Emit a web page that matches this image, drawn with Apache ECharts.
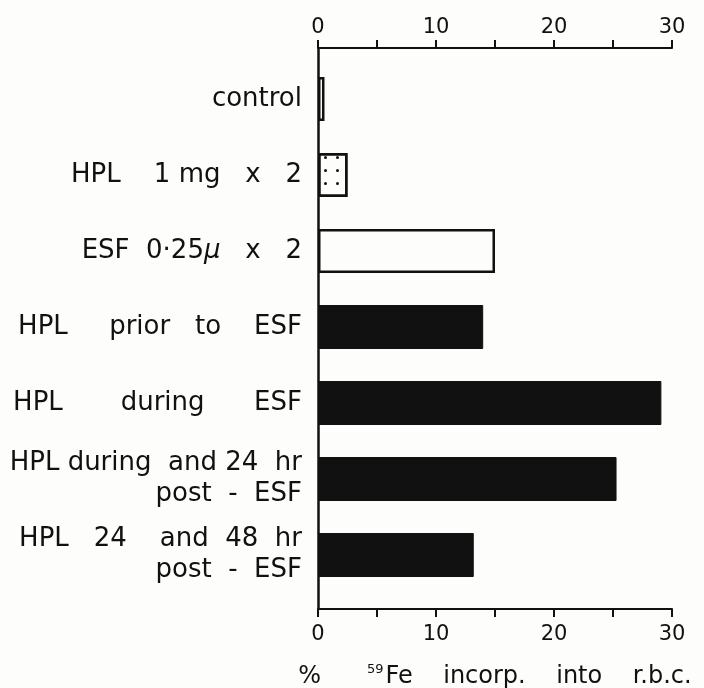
<!DOCTYPE html>
<html>
<head>
<meta charset="utf-8">
<script src="https://cdn.jsdelivr.net/npm/echarts@6/dist/echarts.min.js"></script>
<style>
html,body{margin:0;padding:0;background:#fdfdfb;}
#chart{width:704px;height:688px;}
</style>
</head>
<body>
<div id="chart"></div>
<script>
const categories = [
  'control',
  'HPL    1 mg   x   2',
  'ESF  0·25μ   x   2',
  'HPL     prior   to    ESF',
  'HPL       during      ESF',
  'HPL during  and 24  hr\npost  -  ESF',
  'HPL   24    and  48  hr\npost  -  ESF'
];
const values = [0.55, 2.5, 15.0, 14.0, 29.1, 25.3, 13.2];
const tickLabels = [0, 10, 20, 30];
const axisTitle = ['%', '59', 'Fe    incorp.    into    r.b.c.'];

const FONT = 'DejaVu Sans';
const INK = '#111';
const PAPER = '#fdfdfb';

function barStyle(i) {
  if (i === 0 || i === 2) {
    return { color: PAPER, borderColor: INK, borderWidth: 2.5 };
  }
  if (i === 1) {
    return {
      color: PAPER, borderColor: INK, borderWidth: 2.5,
      decal: {
        symbol: 'circle', symbolSize: 1, color: INK, backgroundColor: 'rgba(0,0,0,0)',
        dashArrayX: [2.5, 8.5], dashArrayY: [2.5, 10]
      }
    };
  }
  return { color: INK, borderColor: INK, borderWidth: 1 };
}

function labelFmt(v) {
  if (v.indexOf('μ') >= 0) {
    const parts = v.split('μ');
    return '{n|' + parts[0] + '}{i|μ}{n|' + parts[1] + '}';
  }
  return v;
}

const tickAxisCommon = {
  type: 'value', min: 0, max: 30, interval: 5,
  axisLine: { show: true, onZero: false, lineStyle: { color: INK, width: 2 } },
  axisTick: { show: true, inside: false, length: 8, lineStyle: { color: INK, width: 2 } },
  axisLabel: {
    formatter: v => tickLabels.indexOf(v) >= 0 ? String(v) : '',
    fontFamily: FONT, fontSize: 21, color: INK
  },
  splitLine: { show: false }
};

const chart = echarts.init(document.getElementById('chart'), null, { renderer: 'canvas' });
chart.setOption({
  backgroundColor: PAPER,
  animation: false,
  grid: [
    { left: 318, right: 32, top: 48, bottom: 79, containLabel: false, outerBoundsMode: 'none' },
    { left: 318, right: 32, top: 61, bottom: 95, containLabel: false, outerBoundsMode: 'none' }
  ],
  xAxis: [
    Object.assign({}, tickAxisCommon, {
      gridIndex: 0, position: 'top',
      axisLabel: Object.assign({}, tickAxisCommon.axisLabel, { margin: 10 })
    }),
    Object.assign({}, tickAxisCommon, {
      gridIndex: 0, position: 'bottom',
      axisLabel: Object.assign({}, tickAxisCommon.axisLabel, { margin: 15 }),
      name: '{n|' + axisTitle[0] + '      }{s|' + axisTitle[1] + '}{n|' + axisTitle[2] + '}',
      nameLocation: 'middle',
      nameGap: 54,
      nameTextStyle: {
        rich: {
          n: { fontFamily: FONT, fontSize: 24, color: INK, lineHeight: 28 },
          s: { fontFamily: FONT, fontSize: 13, color: INK, lineHeight: 28, verticalAlign: 'top', padding: [0, 2, 0, 0] }
        }
      }
    }),
    { gridIndex: 1, type: 'value', min: 0, max: 30, show: false }
  ],
  yAxis: [
    {
      gridIndex: 0, type: 'value', min: 0, max: 1,
      axisLine: { show: true, lineStyle: { color: INK, width: 2.5 } },
      axisTick: { show: false }, axisLabel: { show: false }, splitLine: { show: false }
    },
    {
      gridIndex: 1, type: 'category', data: categories, inverse: true,
      axisLine: { show: false }, axisTick: { show: false }, splitLine: { show: false },
      axisLabel: {
        margin: 16, fontFamily: FONT, fontSize: 26, color: INK, align: 'right',
        lineHeight: 31,
        formatter: labelFmt,
        rich: {
          n: { fontFamily: FONT, fontSize: 26, color: INK },
          i: { fontFamily: FONT, fontSize: 26, color: INK, fontStyle: 'italic' }
        }
      }
    }
  ],
  series: [{
    type: 'bar',
    xAxisIndex: 2, yAxisIndex: 1,
    barWidth: 44,
    data: values.map((v, i) => ({ value: v, itemStyle: barStyle(i) }))
  }]
});
</script>
</body>
</html>
